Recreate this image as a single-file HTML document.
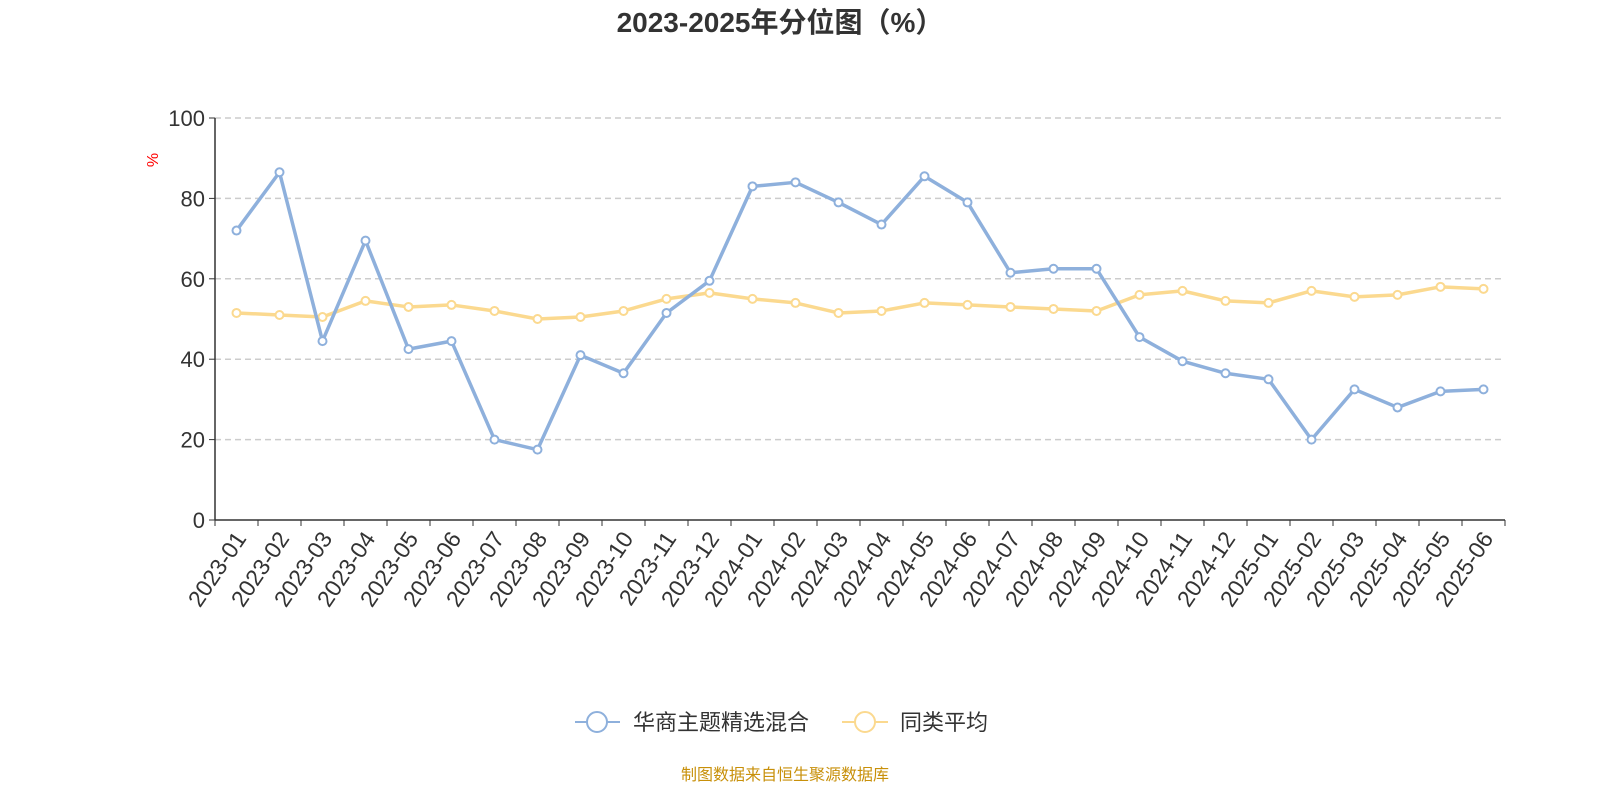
<!DOCTYPE html>
<html><head><meta charset="utf-8"><style>
body{margin:0;background:#fff;}
svg text{font-family:"Liberation Sans","Noto Sans CJK SC",sans-serif;}
</style></head><body>
<svg width="1600" height="800" xmlns="http://www.w3.org/2000/svg" id="chart">
<text x="780" y="32" text-anchor="middle" font-size="28" font-weight="bold" fill="#333">2023-2025年分位图（%）</text>
<text x="158" y="160" font-size="16" fill="red" transform="rotate(-90 158 160)" text-anchor="middle">%</text>
<g id="grid"></g><g id="axes"></g><g id="series"></g>
<g>
<g>
<line x1="575" y1="722" x2="620" y2="722" stroke="#8eb0dc" stroke-width="2"/>
<circle cx="597" cy="722" r="10" fill="#fff" stroke="#8eb0dc" stroke-width="2"/>
<text x="633" y="730" font-size="22" fill="#333">华商主题精选混合</text></g>
<g>
<line x1="842" y1="722" x2="888" y2="722" stroke="#fbd98f" stroke-width="2"/>
<circle cx="865" cy="722" r="10" fill="#fff" stroke="#fbd98f" stroke-width="2"/>
<text x="900" y="730" font-size="22" fill="#333">同类平均</text></g>
</g>
<text x="785" y="780" text-anchor="middle" font-size="16" fill="#c8900a">制图数据来自恒生聚源数据库</text>
</svg>
<script>
const categories=["2023-01","2023-02","2023-03","2023-04","2023-05","2023-06","2023-07","2023-08","2023-09","2023-10","2023-11","2023-12","2024-01","2024-02","2024-03","2024-04","2024-05","2024-06","2024-07","2024-08","2024-09","2024-10","2024-11","2024-12","2025-01","2025-02","2025-03","2025-04","2025-05","2025-06"];
const fundValues=[72,86.5,44.5,69.5,42.5,44.5,20,17.5,41,36.5,51.5,59.5,83,84,79,73.5,85.5,79,61.5,62.5,62.5,45.5,39.5,36.5,35,20,32.5,28,32,32.5];
const avgValues=[51.5,51,50.5,54.5,53,53.5,52,50,50.5,52,55,56.5,55,54,51.5,52,54,53.5,53,52.5,52,56,57,54.5,54,57,55.5,56,58,57.5];
const yTicks=[0,20,40,60,80,100];
const NS="http://www.w3.org/2000/svg";
const X0=215,X1=1505,Y0=520,Y1=118;
const bw=(X1-X0)/categories.length;
const xs=i=>X0+bw*(i+0.5);
const ys=v=>Y0-(v/100)*(Y0-Y1);
function mk(tag,attrs,parent){const e=document.createElementNS(NS,tag);for(const k in attrs)e.setAttribute(k,attrs[k]);parent.appendChild(e);return e;}
const grid=document.getElementById('grid'),axes=document.getElementById('axes'),ser=document.getElementById('series');
yTicks.forEach(t=>{
 if(t>0){const g=mk('line',{x1:X0,x2:X1,y1:ys(t),y2:ys(t),stroke:'#ccc','stroke-dasharray':'6,4','stroke-width':1.5},grid);
 
 }
 mk('line',{x1:X0-6,x2:X0,y1:ys(t),y2:ys(t),stroke:'#333'},axes);
 const l=mk('text',{x:X0-10,y:ys(t)+8,'text-anchor':'end','font-size':22,fill:'#333'},axes);l.textContent=t;
 
 
});
mk('line',{x1:X0,x2:X0,y1:Y1,y2:Y0,stroke:'#333','stroke-width':1.5},axes);
mk('line',{x1:X0,x2:X1,y1:Y0,y2:Y0,stroke:'#333','stroke-width':1.5},axes);
for(let i=0;i<=categories.length;i++)mk('line',{x1:X0+bw*i,x2:X0+bw*i,y1:Y0,y2:Y0+6,stroke:'#333'},axes);
categories.forEach((c,i)=>{
 const x=xs(i)+4,y=Y0+14;
 const t=mk('text',{x:x,y:y,'text-anchor':'end','font-size':23,fill:'#333',transform:`rotate(-56 ${x} ${y})`,dy:'0.35em'},axes);
 t.textContent=c;
 
 
});
function series(vals,color,name){
 const p=mk('polyline',{points:vals.map((v,i)=>xs(i)+','+ys(v)).join(' '),fill:'none',stroke:color,'stroke-width':3.5,'stroke-linejoin':'round'},ser);
 
 
 vals.forEach((v,i)=>{const c=mk('circle',{cx:xs(i),cy:ys(v),r:4,fill:'#fff',stroke:color,'stroke-width':2},ser);
 
 });
}
series(avgValues,'#fbd98f','average');
series(fundValues,'#8eb0dc','fund');
</script>
</body></html>
